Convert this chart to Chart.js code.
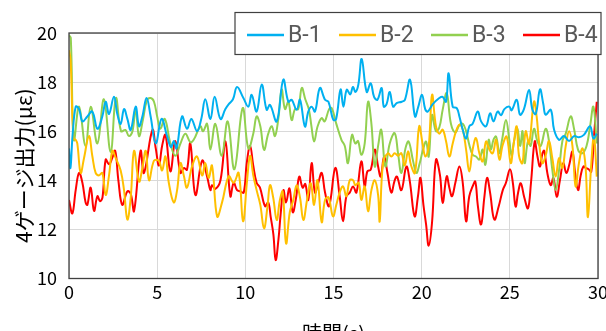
<!DOCTYPE html>
<html><head><meta charset="utf-8">
<script src="https://cdn.jsdelivr.net/npm/chart.js@4.4.0/dist/chart.umd.min.js"></script>
<style>html,body{margin:0;padding:0;background:#fff;overflow:hidden}</style>
</head><body><canvas id="c" width="606" height="331"></canvas>
<script>
const seriesNames = ['B-1', 'B-2', 'B-3', 'B-4'];
const seriesColors = ['#00B0F0', '#FFC000', '#92D050', '#FF0000'];
const xTicks = [0, 5, 10, 15, 20, 25, 30];
const yTicks = [10, 12, 14, 16, 18, 20];
const xTitle = '時間(s)';
const yTitle = '4ゲージ出力(με)';

const b1T = [0.00,0.08,0.20,0.38,0.57,0.76,1.04,1.32,1.61,1.89,2.08,2.27,2.55,2.74,2.93,3.12,3.31,3.50,3.78,3.97,4.16,4.40,4.63,4.92,5.25,5.56,5.78,5.95,6.10,6.41,6.69,6.94,7.26,7.50,7.73,8.02,8.26,8.59,8.87,9.06,9.30,9.53,9.89,10.17,10.36,10.64,10.93,11.21,11.40,11.78,12.15,12.44,12.63,12.91,13.10,13.38,13.57,13.76,13.95,14.23,14.52,14.71,14.99,15.15,15.40,15.56,15.75,15.95,16.10,16.25,16.41,16.60,16.88,17.11,17.30,17.49,17.73,17.85,18.01,18.19,18.38,18.58,18.87,19.05,19.34,19.62,19.81,20.02,20.20,20.34,20.63,21.00,21.19,21.38,21.53,21.76,21.99,22.14,22.33,22.52,22.70,22.89,23.18,23.37,23.65,23.88,24.07,24.31,24.50,24.69,24.97,25.10,25.39,25.58,25.80,26.09,26.28,26.47,26.71,26.90,27.03,27.32,27.51,27.79,28.07,28.36,28.64,28.92,29.20,29.55,29.74,29.93];
const b1V = [15.3,14.5,15.8,17.0,16.9,16.4,16.6,16.8,16.1,16.6,17.2,16.7,17.4,16.7,16.3,16.9,16.5,16.05,17.0,16.2,16.6,17.35,16.6,15.5,16.5,15.8,15.35,15.6,15.3,16.6,16.1,16.5,16.0,16.5,17.3,16.5,17.4,16.5,16.9,17.1,17.3,17.8,17.35,17.0,17.48,16.8,17.9,16.87,17.07,16.4,18.1,17.2,17.28,16.87,17.28,16.19,16.8,17.0,16.8,17.76,17.28,17.2,16.46,16.5,17.7,17.0,17.69,17.5,17.8,17.6,17.9,18.94,17.6,17.95,17.4,17.28,17.76,17.0,17.1,17.6,17.0,17.14,17.2,17.28,18.1,16.6,17.0,17.48,16.9,16.8,17.1,17.35,17.4,17.2,18.36,17.0,16.94,16.6,16.06,15.7,16.2,16.3,16.8,16.4,16.2,16.73,16.4,16.8,16.65,16.9,17.0,16.85,17.28,16.67,16.9,17.68,16.87,16.7,17.7,17.1,16.67,16.87,16.06,15.65,15.8,15.6,15.8,15.75,15.85,16.2,15.7,15.9];

const b2T = [0.00,0.09,0.25,0.38,0.47,0.66,0.85,1.13,1.32,1.51,1.70,1.89,2.08,2.27,2.46,2.65,2.93,3.12,3.31,3.50,3.69,3.97,4.16,4.35,4.54,4.82,5.09,5.28,5.47,5.66,5.94,6.13,6.32,6.51,6.69,6.98,7.26,7.55,7.73,7.92,8.11,8.40,8.68,9.06,9.34,9.62,9.87,10.10,10.27,10.45,10.64,10.85,11.06,11.25,11.40,11.58,11.78,11.96,12.12,12.31,12.52,12.72,12.91,13.10,13.29,13.50,13.71,13.90,14.09,14.33,14.52,14.72,14.97,15.16,15.35,15.54,15.73,15.92,16.11,16.24,16.43,16.58,16.77,16.96,17.15,17.34,17.53,17.62,17.81,18.09,18.28,18.47,18.66,18.85,19.04,19.23,19.40,19.62,19.86,20.05,20.21,20.40,20.59,20.81,21.00,21.19,21.38,21.57,21.76,21.95,22.14,22.33,22.52,22.70,22.89,23.08,23.27,23.46,23.65,23.84,24.03,24.22,24.41,24.60,24.82,25.05,25.20,25.39,25.52,25.71,25.90,26.09,26.37,26.52,26.65,26.84,27.03,27.22,27.41,27.60,27.79,27.98,28.17,28.36,28.55,28.73,28.92,29.12,29.30,29.43,29.62,29.77,29.93];
const b2V = [19.3,18.9,15.7,15.65,15.5,14.3,14.9,15.8,15.0,14.3,14.2,14.3,13.4,14.2,15.2,14.9,14.4,13.6,12.4,13.3,15.2,13.95,14.5,15.2,14.0,14.8,14.8,14.4,14.97,13.9,13.1,13.6,14.7,14.2,13.7,14.57,14.97,14.2,14.7,14.1,14.6,12.53,13.1,14.16,13.9,14.3,12.33,14.0,15.0,14.2,13.6,13.0,12.04,12.9,13.8,13.3,12.38,13.2,13.54,11.43,12.7,13.2,13.8,13.3,12.38,13.2,13.88,13.0,14.0,12.3,13.2,13.3,12.53,13.0,13.5,13.75,13.35,14.0,14.0,13.8,13.9,13.2,13.75,12.74,13.6,14.0,13.4,12.33,14.7,15.1,14.97,15.1,15.0,15.1,14.6,15.18,14.6,14.3,16.2,15.5,14.97,15.4,17.48,16.2,15.9,16.06,15.6,14.97,15.5,16.0,16.26,16.06,15.25,14.36,15.25,15.72,15.1,14.77,15.58,15.25,15.1,15.65,14.84,15.45,15.78,14.7,15.4,16.2,15.0,14.7,16.0,15.5,17.2,16.6,15.6,14.7,15.0,15.6,14.9,14.15,14.9,14.5,15.4,16.0,15.4,13.75,14.7,15.3,14.5,12.5,14.7,15.78,14.15];

const b3T = [0.00,0.10,0.28,0.57,0.94,1.23,1.61,1.98,2.36,2.66,2.95,3.20,3.40,3.60,3.78,3.97,4.20,4.42,4.63,4.82,5.00,5.18,5.43,5.75,6.03,6.32,6.60,6.88,7.07,7.45,7.60,7.83,8.02,8.30,8.66,9.00,9.38,9.85,10.17,10.45,10.64,10.85,11.06,11.30,11.50,11.68,11.87,12.06,12.25,12.44,12.63,12.82,13.00,13.20,13.40,13.60,13.75,13.90,14.10,14.33,14.50,14.75,14.90,15.16,15.45,15.64,15.82,16.05,16.24,16.39,16.58,16.77,16.96,17.15,17.34,17.53,17.71,17.94,18.19,18.47,18.66,18.85,19.08,19.26,19.51,19.70,19.89,20.06,20.25,20.40,20.59,20.81,21.00,21.19,21.42,21.66,21.91,22.14,22.33,22.52,22.70,22.89,23.08,23.27,23.46,23.61,23.80,23.93,24.07,24.22,24.41,24.56,24.78,24.97,25.10,25.24,25.43,25.58,25.72,25.84,26.03,26.18,26.37,26.56,26.75,27.03,27.22,27.41,27.60,27.79,27.98,28.17,28.45,28.64,28.87,29.10,29.35,29.55,29.74,29.93];
const b3V = [19.9,19.8,15.65,17.0,15.4,17.0,15.5,17.3,15.15,17.35,16.0,16.05,15.8,16.0,16.9,15.8,16.5,17.25,17.35,17.2,16.6,16.1,16.5,15.5,15.0,15.5,15.9,15.55,15.65,16.2,16.0,16.3,15.25,16.3,15.0,16.4,14.45,16.94,15.3,15.9,16.6,16.2,15.24,15.9,16.2,15.8,16.5,17.7,16.9,17.2,16.45,16.9,16.9,17.76,17.3,16.9,16.2,15.58,16.2,16.53,16.4,16.9,16.94,16.3,15.65,15.4,14.7,15.85,15.5,15.6,15.04,15.5,17.2,16.3,14.56,15.4,16.06,14.56,15.5,15.92,15.1,14.3,15.3,15.58,14.8,14.3,14.7,15.2,15.58,14.97,16.66,16.0,16.15,16.87,17.55,16.3,15.95,16.25,16.3,16.0,15.45,15.04,14.97,14.85,15.25,14.63,15.65,15.25,15.65,15.78,15.1,15.65,16.46,15.65,15.0,15.6,16.1,15.4,16.0,14.7,15.6,15.4,16.1,15.6,15.4,16.1,15.6,14.42,13.6,14.4,15.6,15.9,16.6,16.1,15.24,15.1,15.4,16.2,17.0,15.5];

const b4T = [0.00,0.19,0.38,0.57,0.76,0.94,1.04,1.23,1.42,1.61,1.76,1.90,2.08,2.27,2.45,2.62,2.80,3.02,3.31,3.50,3.69,4.06,4.25,4.73,4.92,5.10,5.28,5.47,5.75,6.03,6.32,6.51,6.69,6.88,7.17,7.55,7.83,8.02,8.11,8.30,8.59,8.87,9.15,9.34,9.53,9.72,9.91,10.08,10.27,10.45,10.64,10.83,11.12,11.30,11.44,11.59,11.72,11.88,12.00,12.16,12.31,12.50,12.69,12.88,13.06,13.25,13.40,13.57,13.76,13.95,14.14,14.33,14.52,14.75,15.10,15.35,15.54,15.73,15.92,16.11,16.30,16.58,16.77,16.92,17.11,17.34,17.53,17.68,17.87,18.06,18.28,18.47,18.60,18.85,19.13,19.32,19.60,19.79,19.93,20.10,20.25,20.40,20.59,20.81,21.04,21.19,21.42,21.57,21.72,21.91,22.14,22.33,22.52,22.70,22.89,23.04,23.18,23.37,23.56,23.71,23.88,24.12,24.37,24.60,24.78,25.01,25.17,25.33,25.47,25.62,25.82,26.03,26.20,26.41,26.56,26.71,26.85,26.95,27.13,27.32,27.47,27.66,27.84,28.03,28.20,28.36,28.55,28.70,28.87,29.02,29.17,29.32,29.47,29.62,29.77,29.93];
const b4V = [13.2,12.65,13.6,14.3,13.9,13.1,13.0,13.7,12.75,13.35,13.15,13.3,14.85,14.65,14.9,15.2,14.0,13.0,13.55,13.45,12.75,15.2,14.3,16.05,15.3,14.6,15.4,15.85,14.36,15.6,14.3,14.5,14.43,15.5,13.4,14.8,14.16,13.6,13.8,13.65,14.0,15.58,13.35,13.9,13.6,13.55,13.5,14.7,15.4,14.6,13.9,13.7,12.94,13.1,12.5,11.8,10.75,11.6,12.6,13.6,13.1,13.67,12.7,13.3,14.15,13.7,13.85,13.2,14.7,13.5,13.9,14.3,13.5,12.95,14.5,13.35,12.33,13.35,13.5,13.75,13.5,14.77,13.75,14.36,14.43,15.25,14.56,14.15,14.97,14.3,13.5,14.0,14.15,13.6,14.56,14.0,12.53,13.35,14.1,13.0,12.2,11.34,12.3,14.84,14.2,13.08,14.16,13.7,13.35,13.9,14.56,13.9,12.33,13.35,13.75,13.95,13.0,12.2,13.35,14.1,13.5,12.4,12.94,13.6,13.9,14.45,13.9,12.93,13.5,13.88,13.3,12.86,13.9,15.58,15.0,14.56,15.1,15.2,14.28,13.8,14.1,13.33,14.0,14.7,14.3,14.6,15.17,14.3,13.6,14.2,14.56,14.5,14.45,14.35,15.78,17.2];

const seriesT = [b1T, b2T, b3T, b4T];
const seriesV = [b1V, b2V, b3V, b4V];

const frame = {
  id: 'frame',
  afterLayout(chart) {
    // move the y-axis title centre slightly below the plot centre, as in the reference
    chart.scales.y.bottom += 20;
  },
  afterDatasetsDraw(chart) {
    const a = chart.chartArea, ctx = chart.ctx;
    ctx.save();
    ctx.strokeStyle = '#404040';
    ctx.lineWidth = 1.3;
    ctx.strokeRect(a.left, a.top, a.right - a.left, a.bottom - a.top);
    ctx.restore();
  }
};

const boxLegend = {
  id: 'boxLegend',
  afterDraw(chart) {
    const ctx = chart.ctx;
    const L = 235, T = 12.5, W = 366, H = 42;
    ctx.save();
    ctx.fillStyle = '#fff';
    ctx.fillRect(L, T, W, H);
    ctx.strokeStyle = '#404040';
    ctx.lineWidth = 1.2;
    ctx.strokeRect(L, T, W, H);
    ctx.font = '23px Roboto';
    ctx.textBaseline = 'middle';
    chart.data.datasets.forEach((ds, i) => {
      const x = 247 + i * 92, y = 35;
      ctx.strokeStyle = ds.borderColor;
      ctx.lineWidth = 2.5;
      ctx.beginPath(); ctx.moveTo(x, y); ctx.lineTo(x + 37, y); ctx.stroke();
      ctx.fillStyle = '#595959';
      ctx.fillText(ds.label, x + 41, y + 1);
    });
    ctx.restore();
  }
};

const tickFont = {family: '"Noto Sans CJK JP"', size: 18};

new Chart(document.getElementById('c'), {
  type: 'line',
  data: {
    datasets: seriesNames.map((n, i) => ({
      label: n,
      data: seriesT[i].map((t, k) => ({x: t, y: seriesV[i][k]})),
      borderColor: seriesColors[i],
      backgroundColor: seriesColors[i],
      borderWidth: 2,
      pointRadius: 0,
      tension: 0.4,
      fill: false
    }))
  },
  options: {
    responsive: false,
    animation: false,
    devicePixelRatio: 1,
    layout: {padding: {top: 33, right: 8, left: 0, bottom: 0}},
    plugins: {legend: {display: false}, tooltip: {enabled: false}},
    scales: {
      x: {
        type: 'linear', min: 0, max: 30,
        afterBuildTicks: s => { s.ticks = xTicks.map(v => ({value: v})); },
        afterFit: s => { s.height = 52.5; s.paddingLeft = 0; s.paddingRight = 0; },
        grid: {color: '#d9d9d9', lineWidth: 1, drawTicks: false},
        border: {display: false},
        ticks: {padding: 3, font: tickFont, color: '#000', maxRotation: 0, autoSkip: false},
        title: {display: true, text: xTitle, color: '#000', font: {family: '"Noto Sans CJK JP"', size: 20}, padding: {top: 0, bottom: -14}}
      },
      y: {
        min: 10, max: 20,
        afterBuildTicks: s => { s.ticks = yTicks.map(v => ({value: v})); },
        afterFit: s => { s.width = 69; s.paddingTop = 0; s.paddingBottom = 0; },
        grid: {color: '#d9d9d9', lineWidth: 1, drawTicks: false},
        border: {display: false},
        ticks: {padding: 12, font: tickFont, color: '#000'},
        title: {display: true, text: yTitle, color: '#000', font: {family: '"Noto Sans CJK JP"', size: 21}, padding: {top: 11, bottom: 0}}
      }
    }
  },
  plugins: [frame, boxLegend]
});
</script></body></html>
